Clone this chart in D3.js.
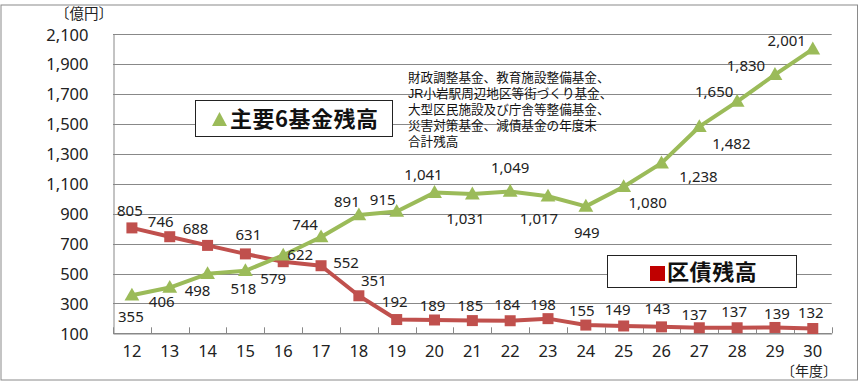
<!DOCTYPE html>
<html><head><meta charset="utf-8">
<script src="https://cdn.jsdelivr.net/npm/d3@7"></script>
<style>
html,body{margin:0;padding:0;background:#fff;}
svg{display:block;}
</style></head>
<body>
<svg id="chart" width="866" height="383"></svg>
<script>
// ---- data ----
const years = ["12","13","14","15","16","17","18","19","20","21","22","23","24","25","26","27","28","29","30"];
const fundValues = [355,406,498,518,622,744,891,915,1041,1031,1049,1017,949,1080,1238,1482,1650,1830,2001];
const debtValues = [805,746,688,631,579,552,351,192,189,185,184,198,155,149,143,137,137,139,132];
const yTicks = [100,300,500,700,900,1100,1300,1500,1700,1900,2100];
const fundLegend = "主要6基金残高";
const debtLegend = "区債残高";
const noteLines = ["財政調整基金、教育施設整備基金、","JR小岩駅周辺地区等街づくり基金、","大型区民施設及び庁舎等整備基金、","災害対策基金、減債基金の年度末","合計残高"];
const yUnit = "〔億円〕";
const xUnit = "〔年度〕";

// ---- label placement (layout only) ----
const fundLabelOff = [[-1,22],[-8,14],[-10,17],[-2,18],[17,-1],[-16,-12],[-12,-13],[-14,-12],[-11,-18],[-7,25],[0,-24],[-9,23],[1,26],[24,16],[37,14],[32,17],[-23,-10],[-29,-9],[-26,-8]];
const debtLabelOff = [[-2,-17],[-9,-15],[-12,-17],[3,-19],[-10,17],[25,-3],[15,-15],[-2,-18],[-2,-14],[-2,-15],[-3,-16],[-5,-14],[-4,-14],[-6,-16],[-4,-18],[-5,-13],[-3,-16],[2,-14],[-2,-16]];

const GREEN = "#9BBB59", RED = "#C0504D", GRID = "#888888";
const NUMFONT = "'Noto Sans', 'DejaVu Sans', sans-serif";
const JPFONT = "'Noto Sans CJK JP', sans-serif";
const NOTEFONT = "'Liberation Sans', 'Noto Sans CJK JP', sans-serif";

const svg = d3.select("#chart");
// outer border
svg.append("rect").attr("x",1).attr("y",5).attr("width",856.5).attr("height",375)
  .attr("fill","#fff").attr("stroke","#8a8a8a").attr("stroke-width",1);

const pLeft = 113, pRight = 831.7, pTop = 34.3, pBottom = 333.3;
const x = d3.scaleBand().domain(years).range([pLeft,pRight]).paddingInner(0).paddingOuter(0);
const y = d3.scaleLinear().domain([100,2100]).range([pBottom,pTop]);
const cx = d => x(d) + x.bandwidth()/2;

// gridlines
svg.append("g").selectAll("line").data(yTicks).join("line")
  .attr("x1",pLeft).attr("x2",pRight)
  .attr("y1",d=>Math.round(y(d))+0.5).attr("y2",d=>Math.round(y(d))+0.5)
  .attr("stroke",GRID).attr("stroke-width",1);

// y axis
const yAxis = svg.append("g").attr("transform",`translate(${pLeft+0.5},0)`)
  .call(d3.axisLeft(y).tickValues(yTicks).tickFormat(d3.format(",")).tickSize(0).tickPadding(25));
yAxis.select(".domain").attr("stroke",GRID);
yAxis.selectAll("text").attr("font-family",NUMFONT).attr("font-size","16.5px").attr("fill","#222").attr("dy","0.35em");

// x axis
const xAxis = svg.append("g").attr("transform",`translate(0,${Math.round(pBottom)+0.5})`)
  .call(d3.axisBottom(x).tickSize(0).tickPadding(12));
xAxis.select(".domain").attr("stroke",GRID);
xAxis.selectAll("text").attr("font-family",NUMFONT).attr("font-size","16.5px").attr("fill","#222");
// tick marks between categories (pointing up)
const edges = years.map(d=>x(d)).concat([pRight]);
svg.append("g").selectAll("line").data(edges).join("line")
  .attr("x1",d=>Math.round(d)+0.5).attr("x2",d=>Math.round(d)+0.5)
  .attr("y1",pBottom-6).attr("y2",pBottom)
  .attr("stroke",GRID);

// units
svg.append("text").attr("x",84).attr("y",19.3).attr("text-anchor","middle")
  .attr("font-family",NOTEFONT).attr("font-size","14.5px").attr("fill","#222").text(yUnit);
svg.append("text").attr("x",809).attr("y",376).attr("text-anchor","middle")
  .attr("font-family",NOTEFONT).attr("font-size","14px").attr("fill","#222").text(xUnit);

// lines
const line = d3.line().x((d,i)=>cx(years[i])).y(d=>y(d));
svg.append("path").datum(debtValues).attr("d",line).attr("fill","none")
  .attr("stroke",RED).attr("stroke-width",4).attr("stroke-linejoin","round");
svg.append("path").datum(fundValues).attr("d",line).attr("fill","none")
  .attr("stroke",GREEN).attr("stroke-width",4).attr("stroke-linejoin","round");

// markers
svg.append("g").selectAll("rect").data(debtValues).join("rect")
  .attr("x",(d,i)=>cx(years[i])-5.5).attr("y",d=>y(d)-5.5)
  .attr("width",11).attr("height",11).attr("fill",RED);
const tri = d3.symbol().type(d3.symbolTriangle).size(95);
svg.append("g").selectAll("path").data(fundValues).join("path")
  .attr("d",tri).attr("transform",(d,i)=>`translate(${cx(years[i])},${y(d)+1})`)
  .attr("fill",GREEN);

// data labels
const fmt = d3.format(",");
svg.append("g").selectAll("text").data(debtValues).join("text")
  .attr("x",(d,i)=>cx(years[i])+debtLabelOff[i][0]).attr("y",(d,i)=>y(d)+debtLabelOff[i][1])
  .attr("dy","0.35em").attr("text-anchor","middle")
  .attr("font-family",NUMFONT).attr("font-size","15px").attr("fill","#222").text(d=>fmt(d));
svg.append("g").selectAll("text").data(fundValues).join("text")
  .attr("x",(d,i)=>cx(years[i])+fundLabelOff[i][0]).attr("y",(d,i)=>y(d)+fundLabelOff[i][1])
  .attr("dy","0.35em").attr("text-anchor","middle")
  .attr("font-family",NUMFONT).attr("font-size","15px").attr("fill","#222").text(d=>fmt(d));

// note text
svg.append("g").selectAll("text").data(noteLines).join("text")
  .attr("x",408).attr("y",(d,i)=>81.5+i*16.1)
  .attr("font-family",NOTEFONT).attr("font-size","12.6px").attr("fill","#111").text(d=>d);

// legend 1
const lg1 = svg.append("g");
lg1.append("rect").attr("x",195.5).attr("y",100.5).attr("width",197).attr("height",36)
  .attr("fill","#fff").attr("stroke","#222").attr("stroke-width",1);
lg1.append("path").attr("d","M212,126 L219.5,112 L227,126 Z").attr("fill",GREEN);
lg1.append("text").attr("x",230).attr("y",119).attr("dy","0.35em")
  .attr("font-family",JPFONT).attr("font-weight",700).attr("font-size","22px")
  .attr("letter-spacing","0.5px").attr("fill","#111").text(fundLegend);

// legend 2
const lg2 = svg.append("g");
lg2.append("rect").attr("x",607.5).attr("y",255.5).attr("width",189).attr("height",32)
  .attr("fill","#fff").attr("stroke","#222").attr("stroke-width",1);
lg2.append("rect").attr("x",650).attr("y",266).attr("width",15).attr("height",15).attr("fill","#C00000");
lg2.append("text").attr("x",667).attr("y",272).attr("dy","0.35em")
  .attr("font-family",JPFONT).attr("font-weight",700).attr("font-size","22px")
  .attr("letter-spacing","0.6px").attr("fill","#111").text(debtLegend);
</script>
</body></html>
